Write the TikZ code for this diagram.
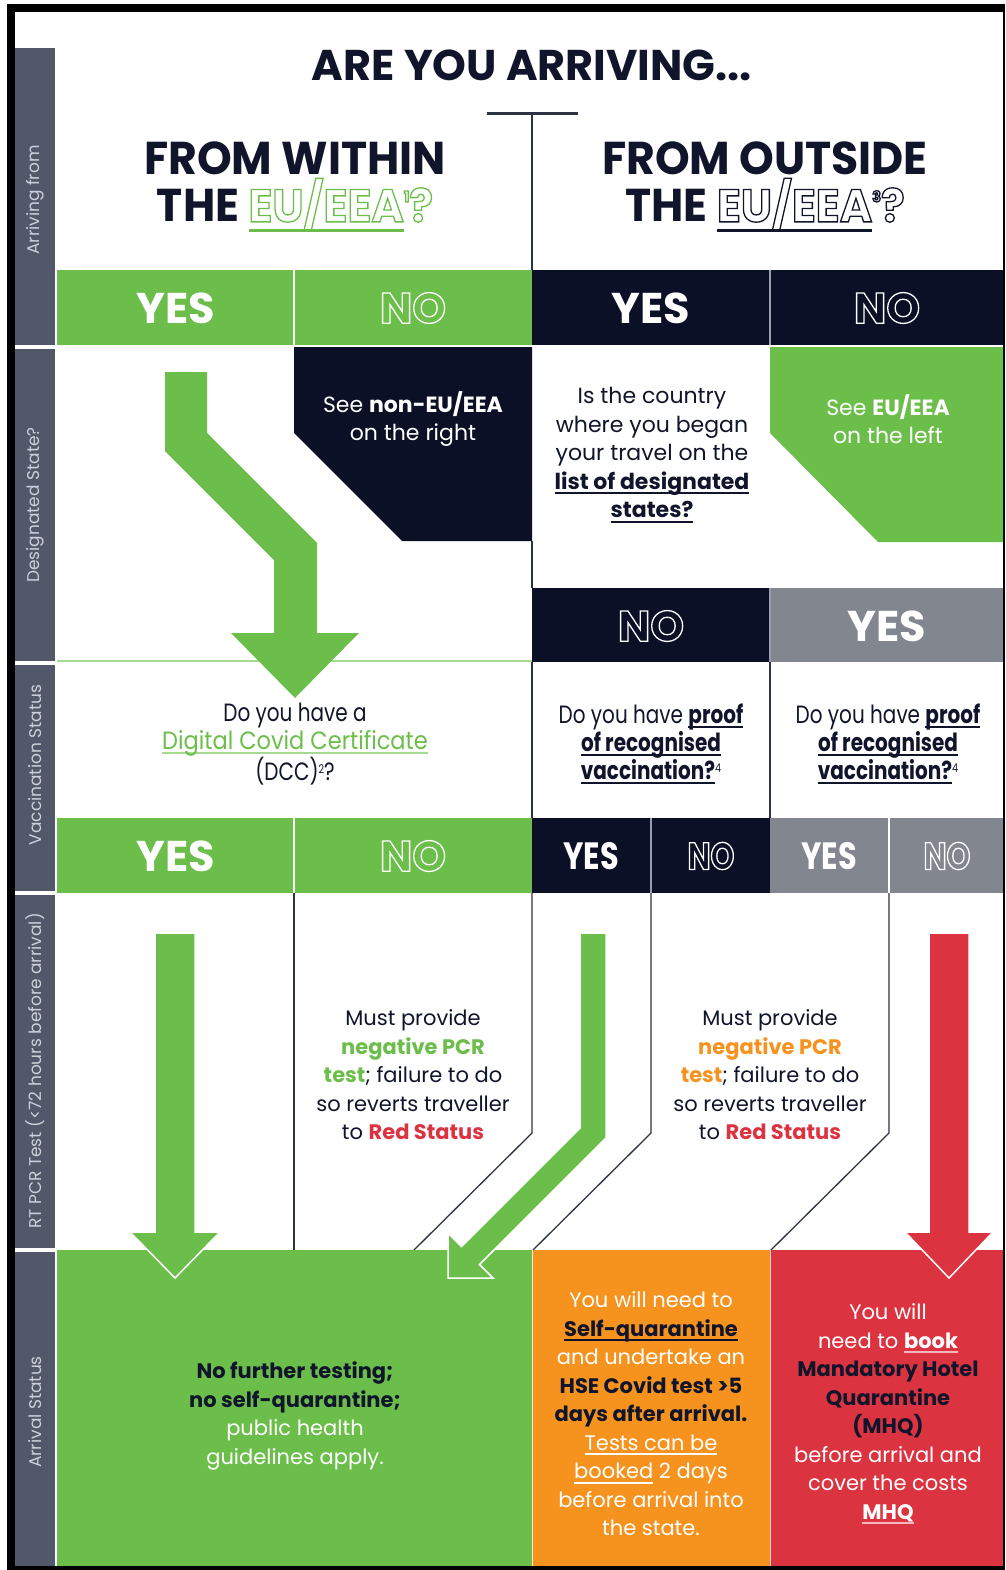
\documentclass[tikz,border=0pt]{standalone}
\usepackage{fontspec}
\setmainfont{Poppins}
\newfontfamily\titf{Poppins}[FakeStretch=0.96]
\newfontfamily\condf{Poppins}[FakeStretch=0.80]
\definecolor{cgreen}{HTML}{6CBE4A}
\definecolor{clgreen}{HTML}{A6DA92}
\definecolor{cnavy}{HTML}{0B1027}
\definecolor{cslate}{HTML}{525769}
\definecolor{cgray}{HTML}{82868F}
\definecolor{corange}{HTML}{F6921E}
\definecolor{cred}{HTML}{DC3340}
\definecolor{ctext}{HTML}{10152B}
\definecolor{cline}{HTML}{2E3245}
\definecolor{cdiv}{HTML}{9A9DAB}
\definecolor{cside}{HTML}{CDD0D9}
\definecolor{cpink}{HTML}{F2B8BE}
\newlength\ulw
\newlength\uloff
\newlength\ulth
\setlength\uloff{5pt}
\setlength\ulth{2pt}
\newcommand\ulc[2]{\settowidth\ulw{#2}\rlap{\textcolor{#1}{\rule[-\uloff]{\ulw}{\ulth}}}#2}
\newcommand\outl[1]{\special{pdf:literal direct 1 Tr 1.3 w}#1\special{pdf:literal direct 0 Tr}}
\newcommand\bigsup[1]{\raisebox{20pt}{\fontsize{15}{15}\selectfont #1}}
\newcommand\smallsup[1]{\raisebox{7pt}{\fontsize{12}{12}\selectfont #1}}
\tikzset{
  sidelabel/.style={rotate=90, text=cside, font=\fontsize{17}{17}\selectfont},
  body/.style={align=center, text=ctext, font=\fontsize{21}{28.5}\selectfont},
  bodyb/.style={align=center, text=ctext, font=\fontsize{22}{28.5}\selectfont},
  condtext/.style={align=center, text=ctext, font=\condf\fontsize{25}{28}\selectfont},
  yn/.style={text=white, font=\bfseries\fontsize{43}{43}\selectfont},
  ynn/.style={text=white, font=\condf\bfseries\fontsize{38}{38}\selectfont},
  thin/.style={draw=cline, line width=1.3pt},
  arrowpoly/.style={draw=white, line width=1.5pt, line join=miter},
}
\begin{document}
\begin{tikzpicture}[x=1pt,y=-1pt, every node/.style={inner sep=0pt, outer sep=0pt}]
\useasboundingbox (0,0) rectangle (1005,1570);
% frame
\fill[black] (7,4) rectangle (1005,1570);
\fill[white] (15,12) rectangle (1003,1566);
% sidebar
\foreach \a/\b in {48/345,349/661,665/891,895/1248,1252/1566}
  \fill[cslate] (15,\a) rectangle (55,\b);
\node[sidelabel] (s1) at (35,200) {Arriving from};
\node[sidelabel] (s2) at (35,505) {Designated State?};
\node[sidelabel] (s3) at (35,765) {Vaccination Status};
\node[sidelabel] (s4) at (35,1071) {RT PCR Test (<72 hours before arrival)};
\node[sidelabel] (s5) at (35,1412) {Arrival Status};

% title
\node[text=ctext, font=\bfseries\fontsize{43}{43}\selectfont] (title) at (532,65) {ARE YOU ARRIVING...};
\draw[cline, line width=3pt] (487,114) -- (578,114);
\draw[thin] (532,114) -- (532,270);
\setlength\uloff{10pt}\setlength\ulth{3pt}
\node[align=center, text=ctext, font=\titf\bfseries\fontsize{46}{47}\selectfont] (hl) at (295,187)
  {FROM WITHIN\\THE \ulc{cgreen}{\textcolor{cgreen}{\outl{EU/EEA}}}\textcolor{cgreen}{\outl{\bigsup{1}?}}};
\node[align=center, text=ctext, font=\titf\bfseries\fontsize{46}{47}\selectfont] (hr) at (765,187)
  {FROM OUTSIDE\\THE \ulc{ctext}{\outl{EU/EEA}}\outl{\bigsup{3}?}};
\setlength\uloff{5pt}\setlength\ulth{2pt}

% row 1 bars
\fill[cgreen] (57,270) rectangle (532,345);
\fill[cnavy] (532,270) rectangle (1003,345);
\draw[white, line width=1.5pt] (294,270) -- (294,345);
\draw[cdiv, line width=1.5pt] (770,270) -- (770,345);
\node[yn] (y1a) at (176,308) {YES};
\node[yn] (n1a) at (413,308) {\outl{NO}};
\node[yn] (y1b) at (651,308) {YES};
\node[yn] (n1b) at (887,308) {\outl{NO}};

% row 2
\fill[cnavy] (294,347) -- (532,347) -- (532,541) -- (402,541) -- (294,433) -- cycle;
\fill[cgreen] (770,347) -- (1003,347) -- (1003,542) -- (878,542) -- (770,433) -- cycle;
\node[bodyb, text=white] (seenon) at (413,419) {See \textbf{non-EU/EEA}\\on the right};
\node[bodyb] (isq) at (652,455) {Is the country\\where you began\\your travel on the\\\ulc{ctext}{\textbf{list of designated}}\\\ulc{ctext}{\textbf{states?}}};
\node[bodyb, text=white] (seeeu) at (888,419) {See \textbf{EU/EEA}\\on the left};
\draw[thin] (532,541) -- (532,588);
\fill[cnavy] (532,588) rectangle (770,662);
\fill[cgray] (770,588) rectangle (1003,662);
\draw[cdiv, line width=1.5pt] (770,588) -- (770,662);
\node[yn] (n2) at (651,626) {\outl{NO}};
\node[yn] (y2) at (887,626) {YES};
\draw[clgreen, line width=2.5pt] (57,661) -- (532,661);
\fill[cgreen] (165,372) -- (207,372) -- (207,433) -- (317,543) -- (317,633) -- (359,633) -- (295,698) -- (231,633) -- (274,633) -- (274,560) -- (165,451) -- cycle;

% row 3
\draw[thin] (532,662) -- (532,818);
\draw[thin] (770,662) -- (770,818);
\node[condtext] (dcc) at (295,744) {Do you have a\\\ulc{clgreen}{\textcolor{cgreen}{\addfontfeature{FakeStretch=0.9}Digital Covid Certificate}}\\(DCC)\smallsup{2}?};
\node[condtext] (pv1) at (651,744) {Do you have \ulc{ctext}{\textbf{proof}}\\\ulc{ctext}{\textbf{of recognised}}\\\ulc{ctext}{\textbf{vaccination?}}\smallsup{4}};
\node[condtext] (pv2) at (888,744) {Do you have \ulc{ctext}{\textbf{proof}}\\\ulc{ctext}{\textbf{of recognised}}\\\ulc{ctext}{\textbf{vaccination?}}\smallsup{4}};
\fill[cgreen] (57,818) rectangle (532,893);
\fill[cnavy] (532,818) rectangle (770,893);
\fill[cgray] (770,818) rectangle (1003,893);
\draw[white, line width=1.5pt] (294,818) -- (294,893);
\draw[cdiv, line width=1.5pt] (651,818) -- (651,893);
\draw[white, line width=1.5pt] (889,818) -- (889,893);
\node[yn] (y3a) at (176,856) {YES};
\node[yn] (n3a) at (413,856) {\outl{NO}};
\node[ynn] (y3b) at (591,856) {YES};
\node[ynn] (n3b) at (711,856) {\outl{NO}};
\node[ynn] (y3c) at (829,856) {YES};
\node[ynn] (n3c) at (947,856) {\outl{NO}};

% row 4
\draw[thin] (294,893) -- (294,1250);
\draw[thin, line join=miter] (532,893) -- (532,1133) -- (414,1250);
\draw[thin, line join=miter] (651,893) -- (651,1133) -- (533,1250);
\draw[thin, line join=miter] (889,893) -- (889,1133) -- (771,1250);
\node[body] (pcrl) at (413,1075) {Must provide\\\textcolor{cgreen}{\textbf{negative PCR}}\\\textcolor{cgreen}{\textbf{test}}; failure to do\\so reverts traveller\\to \textcolor{cred}{\textbf{Red Status}}};
\node[body] (pcrr) at (770,1075) {Must provide\\\textcolor{corange}{\textbf{negative PCR}}\\\textcolor{corange}{\textbf{test}}; failure to do\\so reverts traveller\\to \textcolor{cred}{\textbf{Red Status}}};

% row 5
\fill[cgreen] (57,1250) rectangle (532,1566);
\fill[corange] (532,1250) rectangle (770,1566);
\fill[cred] (770,1250) rectangle (1003,1566);
\draw[white!80!corange, line width=1pt] (532.5,1250) -- (532.5,1566);
\draw[white!80!cred, line width=1pt] (770,1250) -- (770,1566);
\node[body] (nft) at (295,1416) {\textbf{No further testing;}\\\textbf{no self-quarantine;}\\\textcolor{white}{public health}\\\textcolor{white}{guidelines apply.}};
\node[body, text=white] (selfq) at (651,1414) {You will need to\\\ulc{ctext}{\textcolor{ctext}{\textbf{Self-quarantine}}}\\and undertake an\\\textcolor{ctext}{\textbf{HSE Covid test >5}}\\\textcolor{ctext}{\textbf{days after arrival.}}\\\ulc{white}{Tests can be}\\\ulc{white}{booked} 2 days\\before arrival into\\the state.};
\node[body, text=white] (mhq) at (888,1414) {You will\\need to \ulc{cpink}{\textbf{book}}\\\textcolor{ctext}{\textbf{Mandatory Hotel}}\\\textcolor{ctext}{\textbf{Quarantine}}\\\textcolor{ctext}{\textbf{(MHQ)}}\\before arrival and\\cover the costs\\\ulc{cpink}{\textbf{MHQ}}};

% row 4 arrows
\filldraw[arrowpoly, fill=cgreen] (155,933) -- (195,933) -- (195,1232) -- (220,1232) -- (175,1278) -- (130,1232) -- (155,1232) -- cycle;
\filldraw[arrowpoly, fill=cgreen] (580,933) -- (606,933) -- (606,1138) -- (479.5,1264.5) -- (493,1278) -- (448,1278) -- (448,1233) -- (461.5,1246.5) -- (580,1128) -- cycle;
\filldraw[arrowpoly, fill=cred] (929,933) -- (969,933) -- (969,1232) -- (993,1232) -- (949,1278) -- (905,1232) -- (929,1232) -- cycle;
\end{tikzpicture}
\end{document}
